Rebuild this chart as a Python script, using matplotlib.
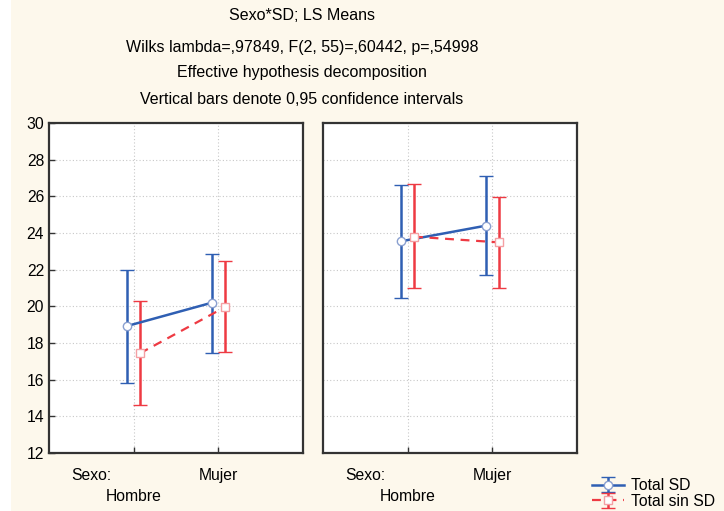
import matplotlib
matplotlib.use('Agg')
import matplotlib.pyplot as plt
from matplotlib.patches import Rectangle

# data
categorias = ['Hombre', 'Mujer']

# LS means and 95% CI limits, one list per panel
total_sd_mean = [[18.93, 20.20], [23.55, 24.40]]
total_sd_low = [[15.82, 17.47], [20.44, 21.69]]
total_sd_high = [[22.00, 22.86], [26.62, 27.11]]

sin_sd_mean = [[17.44, 19.95], [23.80, 23.49]]
sin_sd_low = [[14.60, 17.49], [20.98, 20.98]]
sin_sd_high = [[20.31, 22.49], [26.69, 25.95]]

titulo = ['Sexo*SD; LS Means',
          'Wilks lambda=,97849, F(2, 55)=,60442, p=,54998',
          'Effective hypothesis decomposition',
          'Vertical bars denote 0,95 confidence intervals']

plt.rcParams['font.family'] = ['Liberation Sans', 'DejaVu Sans']

BLUE = '#2f5fb3'
RED = '#ee3a43'
CREAM = '#fdf8ec'

fig = plt.figure(figsize=(7.24, 5.11), dpi=100, facecolor=CREAM)
fig.patches.append(Rectangle((0, 0), 11/724, 1, transform=fig.transFigure,
                             facecolor='white', edgecolor='none', zorder=0))

ax1 = fig.add_axes([49/724, 1-453/511, 254/724, 330/511])
ax2 = fig.add_axes([323/724, 1-453/511, 254/724, 330/511])

x = [1, 2]
off = 0.075
handles = []
for k, ax in enumerate([ax1, ax2]):
    ax.set_facecolor('white')
    xb = [v - off for v in x]
    xr = [v + off for v in x]
    m = total_sd_mean[k]
    err_b = [[m[i] - total_sd_low[k][i] for i in range(2)],
             [total_sd_high[k][i] - m[i] for i in range(2)]]
    m2 = sin_sd_mean[k]
    err_r = [[m2[i] - sin_sd_low[k][i] for i in range(2)],
             [sin_sd_high[k][i] - m2[i] for i in range(2)]]
    hb = ax.errorbar(xb, m, yerr=err_b, color=BLUE, lw=1.8, elinewidth=1.8,
                     capsize=5, capthick=1.8, marker='o', ms=6,
                     mfc='white', mec='#8aa0d0', mew=1, zorder=3)
    hr = ax.errorbar(xr, m2, yerr=err_r, color=RED, lw=1.6, ls=(0, (4, 3)),
                     elinewidth=1.8, capsize=5, capthick=1.8, marker='s', ms=6,
                     mfc='white', mec='#f4a0a4', mew=1, zorder=3)
    hr[2][0].set_linestyle('-')
    handles = [hb, hr]

    ax.set_xlim(0, 3)
    ax.set_ylim(12, 30)
    ax.set_yticks(range(12, 31, 2))
    ax.set_xticks(x)
    ax.set_xticklabels([])
    ax.grid(True, ls=(0, (1, 2)), color='#c8c8c8', lw=0.8)
    ax.set_axisbelow(True)
    ax.tick_params(direction='in', length=4, width=1, colors='#333333',
                   labelsize=11.3, labelcolor='black')
    for s in ax.spines.values():
        s.set_color('#333333')
        s.set_linewidth(1.6)
    tr = ax.get_xaxis_transform()
    ax.text(0.5, -0.045, 'Sexo:', transform=tr, ha='center', va='top', fontsize=11.3)
    ax.text(1, -0.11, categorias[0], transform=tr, ha='center', va='top', fontsize=11.3)
    ax.text(2, -0.045, categorias[1], transform=tr, ha='center', va='top', fontsize=11.3)

ax2.tick_params(labelleft=False, left=False)

ys = [15, 47, 73, 99]
for t, yy in zip(titulo, ys):
    fig.text(302/724, 1 - yy/511, t, ha='center', va='center', fontsize=11.5)

fig.legend(handles, ['Total SD', 'Total sin SD'], loc='upper left',
           bbox_to_anchor=(578/724, 1 - 464/511), frameon=False, fontsize=11.3,
           handlelength=2.0, labelspacing=0.05, handletextpad=0.5)

fig.savefig('out.png', dpi=100, facecolor=CREAM)
